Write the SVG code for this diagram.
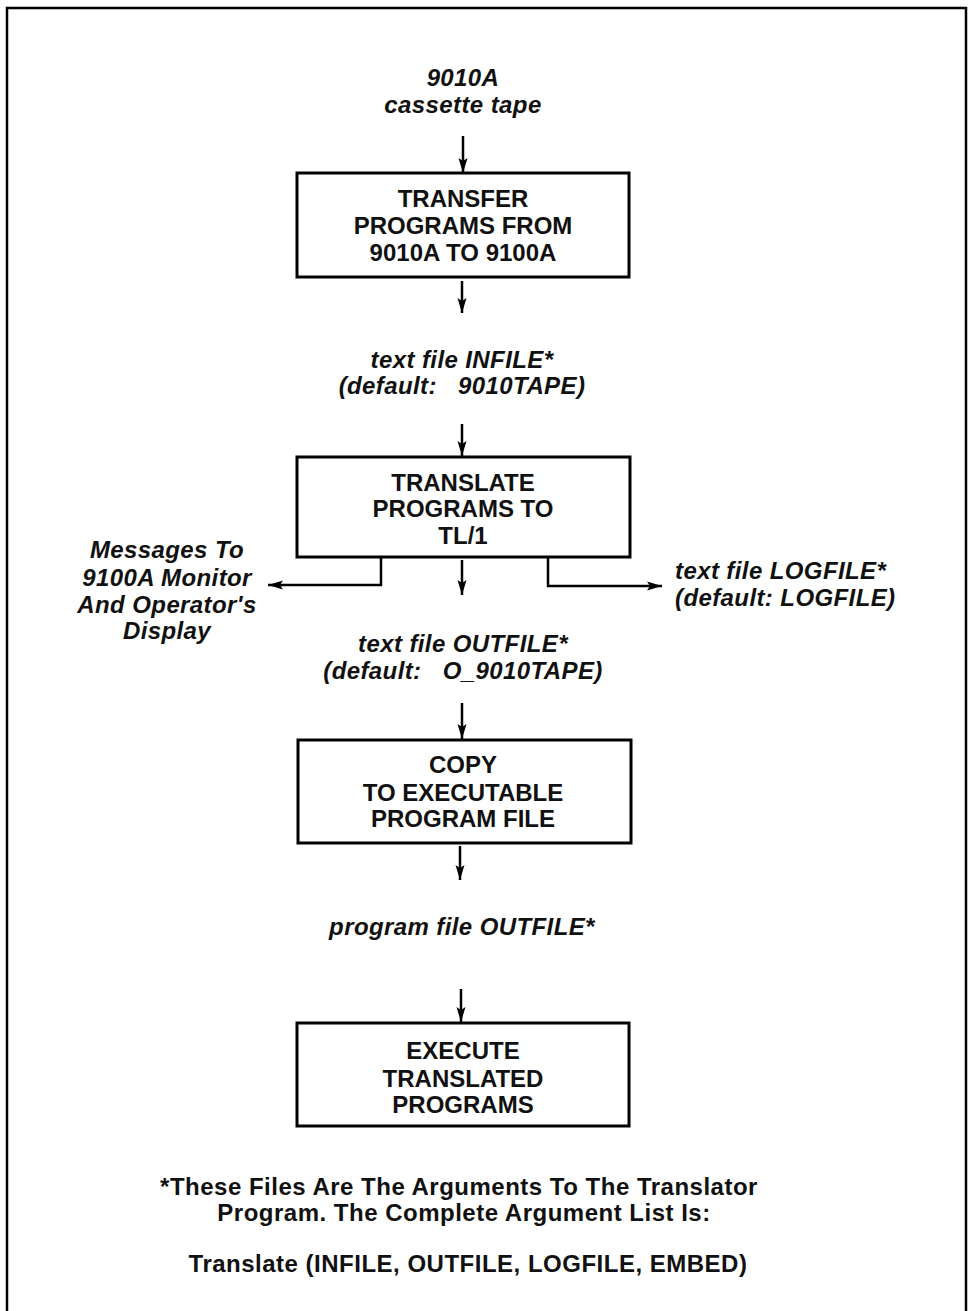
<svg xmlns="http://www.w3.org/2000/svg" width="968" height="1311" viewBox="0 0 968 1311">
<defs>
<marker id="ah" viewBox="0 0 15 10" refX="15" refY="5" markerWidth="15" markerHeight="10" markerUnits="userSpaceOnUse" orient="auto">
<path d="M0,0.5 L15,5 L0,9.5 L3,5 Z" fill="#000"/>
</marker>
<style>
.box{fill:#fff;stroke:#000;stroke-width:3}
.bt{font-family:"Liberation Sans",Arial,sans-serif;font-weight:bold;font-size:24px;text-anchor:middle;fill:#111}
.lb{font-family:"Liberation Sans",Arial,sans-serif;font-weight:bold;font-style:italic;font-size:24px;letter-spacing:0.4px;fill:#111;white-space:pre}
.c{text-anchor:middle}
.fn{font-family:"Liberation Sans",Arial,sans-serif;font-weight:bold;font-size:24px;letter-spacing:0.5px;text-anchor:middle;fill:#111;white-space:pre}
.cn{fill:none;stroke:#000;stroke-width:2.5}
.ar{marker-end:url(#ah)}
</style>
</defs>
<rect width="968" height="1311" fill="#fff"/>
<path d="M7,1311 V8 H966 V1311" fill="none" stroke="#000" stroke-width="2.5"/>

<g id="connectors">
<path class="cn ar" d="M463,136 V173"/>
<path class="cn ar" d="M462,281 V313"/>
<path class="cn ar" d="M462,424 V456"/>
<path class="cn ar" d="M462,560 V595"/>
<path class="cn ar" d="M381,557 V585 H268"/>
<path class="cn ar" d="M548,557 V586 H662"/>
<path class="cn ar" d="M462,703 V739"/>
<path class="cn ar" d="M460,846 V880"/>
<path class="cn ar" d="M461,989 V1022"/>
</g>

<g id="label-tape">
<text class="lb c" x="463" y="86">9010A</text>
<text class="lb c" x="463" y="113">cassette tape</text>
</g>

<g id="node-transfer">
<rect class="box" x="297" y="173" width="332" height="104"/>
<text class="bt" x="463" y="207">TRANSFER</text>
<text class="bt" x="463" y="234">PROGRAMS FROM</text>
<text class="bt" x="463" y="261">9010A TO 9100A</text>
</g>

<g id="label-infile">
<text class="lb c" x="462" y="368">text file INFILE*</text>
<text class="lb c" x="462" y="394">(default:   9010TAPE)</text>
</g>

<g id="node-translate">
<rect class="box" x="297" y="457" width="333" height="100"/>
<text class="bt" x="463" y="491">TRANSLATE</text>
<text class="bt" x="463" y="517">PROGRAMS TO</text>
<text class="bt" x="463" y="544">TL/1</text>
</g>

<g id="label-messages">
<text class="lb c" x="167" y="558">Messages To</text>
<text class="lb c" x="167" y="586">9100A Monitor</text>
<text class="lb c" x="167" y="613">And Operator's</text>
<text class="lb c" x="167" y="639">Display</text>
</g>

<g id="label-logfile">
<text class="lb" x="675" y="579">text file LOGFILE*</text>
<text class="lb" x="675" y="606">(default: LOGFILE)</text>
</g>

<g id="label-outfile">
<text class="lb c" x="463" y="652">text file OUTFILE*</text>
<text class="lb c" x="463" y="679">(default:   O_9010TAPE)</text>
</g>

<g id="node-copy">
<rect class="box" x="298" y="740" width="333" height="103"/>
<text class="bt" x="463" y="773">COPY</text>
<text class="bt" x="463" y="801">TO EXECUTABLE</text>
<text class="bt" x="463" y="827">PROGRAM FILE</text>
</g>

<g id="label-program">
<text class="lb c" x="462" y="935">program file OUTFILE*</text>
</g>

<g id="node-execute">
<rect class="box" x="297" y="1023" width="332" height="103"/>
<text class="bt" x="463" y="1059">EXECUTE</text>
<text class="bt" x="463" y="1087">TRANSLATED</text>
<text class="bt" x="463" y="1113">PROGRAMS</text>
</g>

<g id="footnote">
<text class="fn" x="459" y="1195">*These Files Are The Arguments To The Translator</text>
<text class="fn" x="464" y="1221">Program. The Complete Argument List Is:</text>
<text class="fn" x="468" y="1272">Translate (INFILE, OUTFILE, LOGFILE, EMBED)</text>
</g>
</svg>
